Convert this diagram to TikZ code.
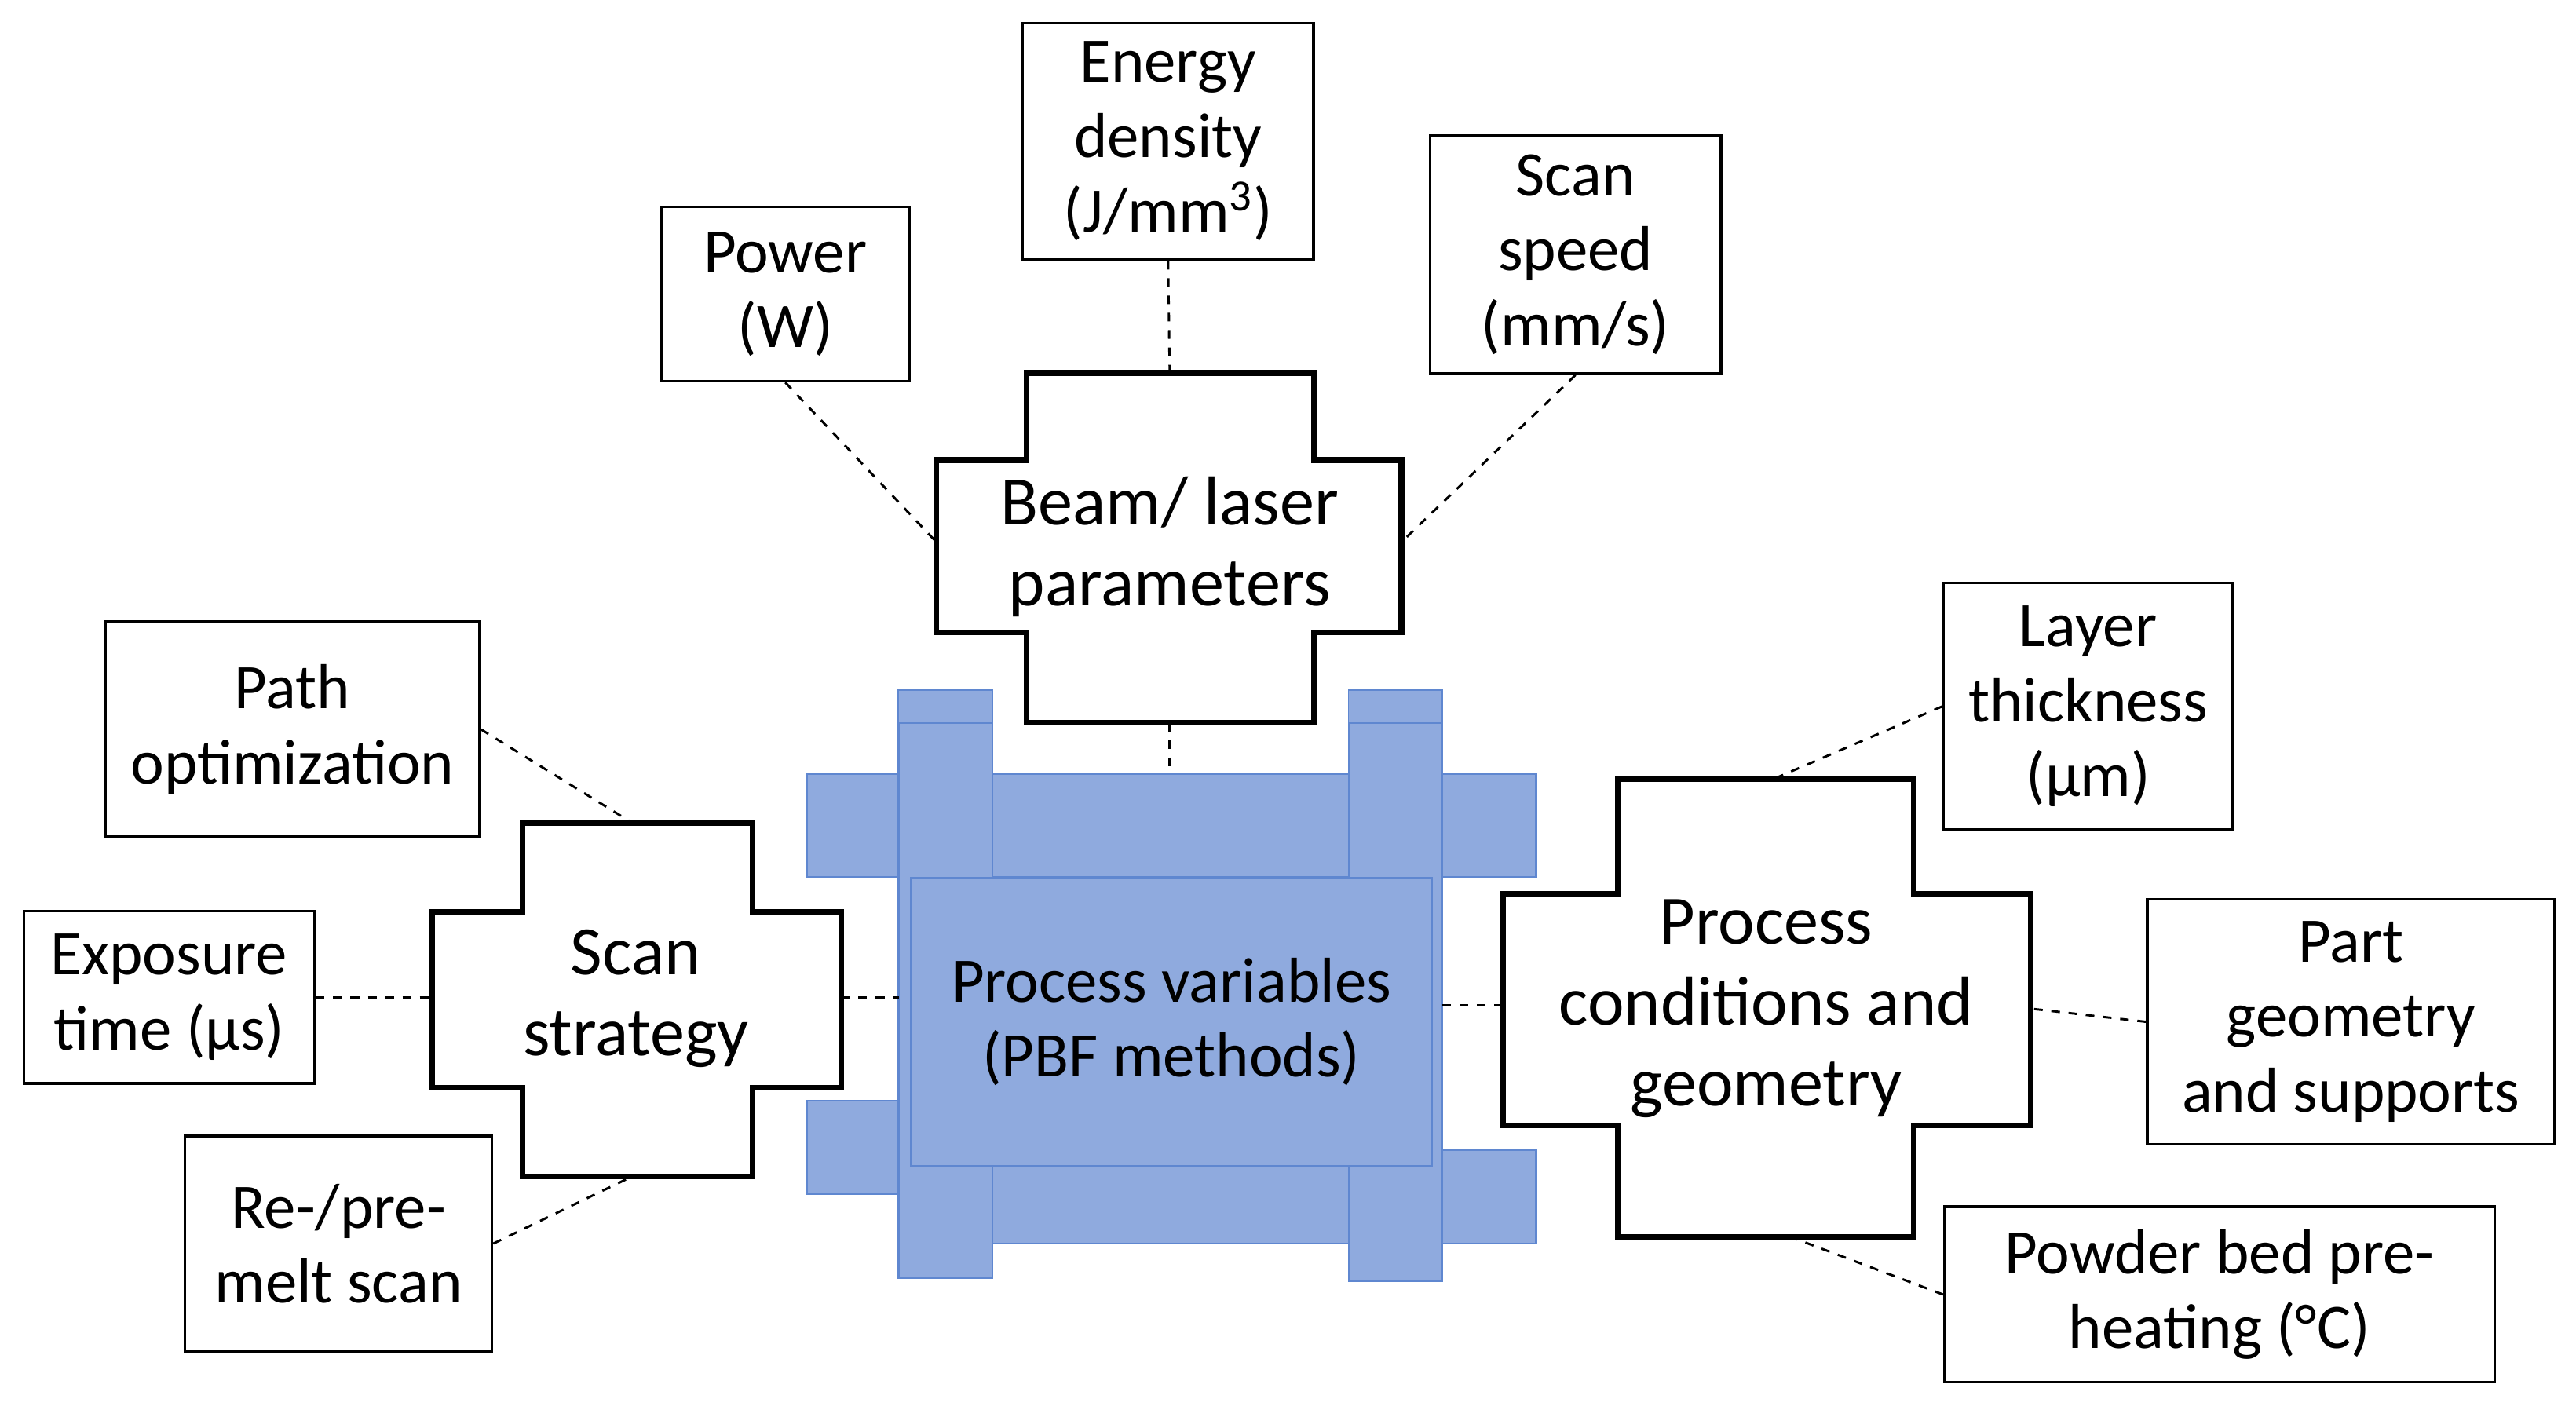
\documentclass[tikz,border=0pt]{standalone}
\usepackage{fontspec}
\setmainfont{Carlito}
\usetikzlibrary{positioning}
\definecolor{barblue}{RGB}{143,170,222}
\definecolor{baredge}{RGB}{95,135,208}
\tikzset{
    base/.style={font=\fontsize{22}{26}\selectfont, align=center},
    box/.style={base, draw=black, line width=0.9pt, inner sep=0pt},
    cross/.style={draw=black, line width=2pt, fill=white},
    bar/.style={fill=barblue, draw=baredge, line width=0.6pt},
    link/.style={draw=black, thick, dashed}
}
\begin{document}
\begin{tikzpicture}[x=0.02cm, y=-0.02cm]
    \useasboundingbox (0,0) rectangle (1568,858);

    % central frame
    \draw [bar] (491,471) rectangle (935,534);
    \draw [bar] (491,670) rectangle (547,727);
    \draw [bar] (548,700) rectangle (935,757);
    \draw [bar] (547,420) rectangle (604,778);
    \draw [bar] (821,420) rectangle (878,780);
    \draw [bar] (547,420) -- (604,420) -- (604,440) -- (547,440);
    \draw [bar] (821,420) -- (878,420) -- (878,440) -- (821,440);
    \node [bar, base, minimum width=317*0.02cm, minimum height=175*0.02cm] (PV) at (713,622) {Process variables\\(PBF methods)};

    % crosses
    \draw [cross] (625,227) -- (800,227) -- (800,280) -- (853,280) -- (853,385) -- (800,385) -- (800,440) -- (625,440) -- (625,385) -- (570,385) -- (570,280) -- (625,280) -- cycle;
    \node [base, font=\fontsize{24}{28}\selectfont] (Beam) at (712,333) {Beam/ laser\\parameters};
    \draw [cross] (318,501) -- (458,501) -- (458,555) -- (512,555) -- (512,662) -- (458,662) -- (458,716) -- (318,716) -- (318,662) -- (263,662) -- (263,555) -- (318,555) -- cycle;
    \node [base, font=\fontsize{24}{28}\selectfont] (Scan) at (387,608) {Scan\\strategy};
    \draw [cross] (985,474) -- (1165,474) -- (1165,544) -- (1236,544) -- (1236,685) -- (1165,685) -- (1165,753) -- (985,753) -- (985,685) -- (915,685) -- (915,544) -- (985,544) -- cycle;
    \node [base, font=\fontsize{24}{28}\selectfont] (Cond) at (1075,614) {Process\\conditions and\\geometry};

    % named ends on the crosses
    \coordinate (BeamW) at (570,330); \coordinate (BeamE) at (853,330);
    \coordinate (BeamN) at (712,227); \coordinate (BeamS) at (712,440);
    \coordinate (ScanNE) at (385,501); \coordinate (ScanW) at (263,607);
    \coordinate (ScanSE) at (385,716); \coordinate (ScanE) at (512,607);
    \coordinate (CondW) at (915,612); \coordinate (CondN) at (1080,474);
    \coordinate (CondE) at (1236,614); \coordinate (CondS) at (1090,753);
    \coordinate (FrameN) at (712,471); \coordinate (FrameW) at (547,607);
    \coordinate (FrameE) at (878,612);

    % parameter boxes
    \node [box, minimum width=151*0.02cm, minimum height=106*0.02cm] (Power) at (478,179) {Power\\(W)};
    \node [box, minimum width=177*0.02cm, minimum height=144*0.02cm] (Energy) at (711,86) {Energy\\density\\(J/mm\textsuperscript{3})};
    \node [box, minimum width=177*0.02cm, minimum height=145*0.02cm] (Speed) at (959,155) {Scan\\speed\\(mm/s)};
    \node [box, minimum width=228*0.02cm, minimum height=131*0.02cm] (Path) at (178,444) {Path\\optimization};
    \node [box, minimum width=177*0.02cm, minimum height=105*0.02cm] (Exposure) at (103,607) {Exposure\\time (µs)};
    \node [box, minimum width=187*0.02cm, minimum height=131*0.02cm] (Melt) at (206,757) {Re-/pre-\\melt scan};
    \node [box, minimum width=176*0.02cm, minimum height=150*0.02cm] (Layer) at (1271,430) {Layer\\thickness\\(µm)};
    \node [box, minimum width=248*0.02cm, minimum height=149*0.02cm] (Part) at (1431,622) {Part\\geometry\\and supports};
    \node [box, minimum width=335*0.02cm, minimum height=107*0.02cm] (Powder) at (1351,788) {Powder bed pre-\\heating (°C)};

    \draw [link] (Power.south) -- (BeamW);
    \draw [link] (Energy.south) -- (BeamN);
    \draw [link] (Speed.south) -- (BeamE);
    \draw [link] (BeamS) -- (FrameN);
    \draw [link] (Path.east) -- (ScanNE);
    \draw [link] (Exposure.east) -- (ScanW);
    \draw [link] (Melt.east) -- (ScanSE);
    \draw [link] (ScanE) -- (FrameW);
    \draw [link] (FrameE) -- (CondW);
    \draw [link] (Layer.west) -- (CondN);
    \draw [link] (Part.west) -- (CondE);
    \draw [link] (Powder.west) -- (CondS);
\end{tikzpicture}
\end{document}
